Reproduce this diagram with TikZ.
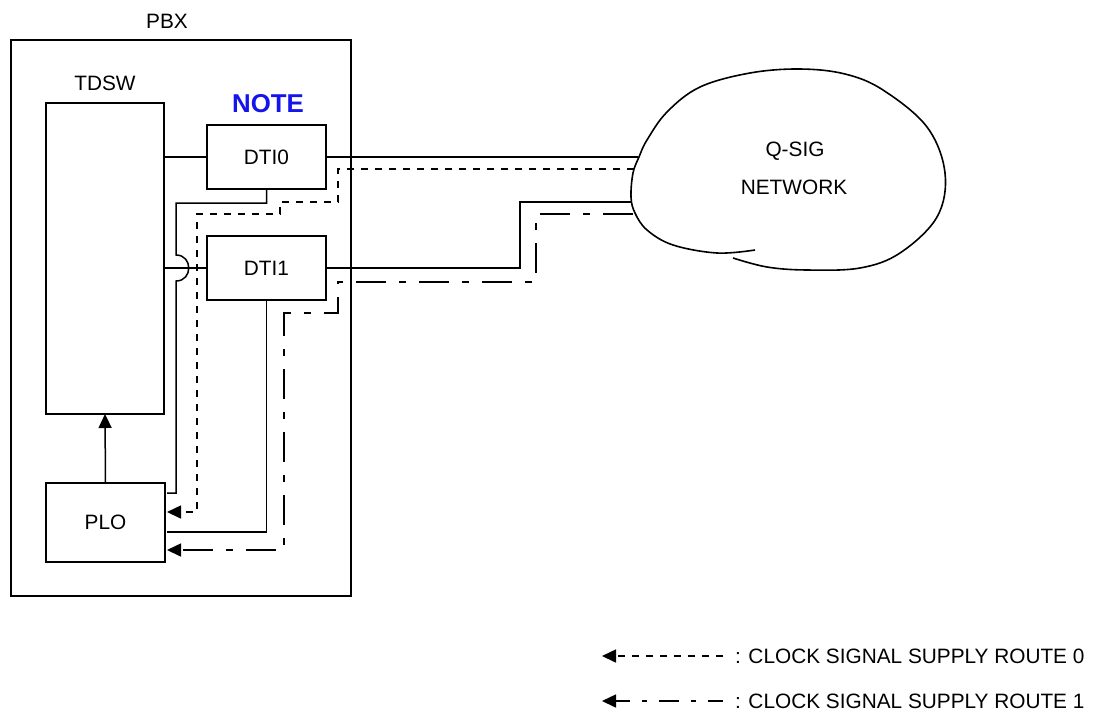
\documentclass[tikz,border=0pt]{standalone}
\usepackage{fontspec}
\setmainfont{Liberation Sans}
\usetikzlibrary{arrows.meta}
\definecolor{noteblue}{RGB}{20,20,235}
\begin{document}
\begin{tikzpicture}[x=1pt,y=-1pt,
  every node/.style={inner sep=0pt,outer sep=0pt},
  lbl/.style={font=\fontsize{20.8}{24}\selectfont},
  unit/.style={draw,line width=2.8pt,lbl},
  wire/.style={line width=1.5pt},
  route0/.style={line width=1.6pt,dash pattern=on 7pt off 7pt},
  route1/.style={line width=1.6pt,dash pattern=on 30pt off 13pt on 7pt off 13pt},
  tip/.style={-{Triangle[length=14pt,width=13pt]}}]
\useasboundingbox (0,0) rectangle (1100,716);
% frames
\node[draw,line width=1.5pt,minimum width=340pt,minimum height=556pt] (pbx) at (181,318) {};
\node[lbl] (pbxl) at (167,21) {PBX};
\node[draw,line width=2.8pt,minimum width=118pt,minimum height=311pt] (tdsw) at (105,258.5) {};
\node[lbl] (tdswl) at (105,83) {TDSW};
\node[font=\fontsize{25.8}{30}\selectfont\bfseries,text=noteblue] (note) at (268,104) {NOTE};
\node[unit,minimum width=119pt,minimum height=64pt] (dti0) at (266.5,157) {DTI0};
\node[unit,minimum width=119pt,minimum height=64pt] (dti1) at (266.5,268) {DTI1};
\node[unit,minimum width=119pt,minimum height=79pt] (plo) at (105.5,522.5) {PLO};
% cloud
\draw[line width=1.6pt] plot[smooth,tension=0.6] coordinates {
 (755,250) (717,253) (673,245) (647,230) (635,213) (631,197) (633,173) (639,157)
 (647,140) (667,112) (700,87) (750,73) (800,69) (845,74) (883,90) (927,127)
 (945,173) (937,217) (900,253) (860,268) (807,270) (767,267) (733,258)};
\node[lbl] (qsig) at (795,151) {Q-SIG};
\node[lbl] (net) at (794,187) {NETWORK};
% cloud contact points
\coordinate (c0) at (638,157);
\coordinate (c0d) at (634,169);
\coordinate (c1) at (631,202);
\coordinate (c1d) at (633,214);
\coordinate (j1) at (520,202);
\coordinate (a1) at (176,203);
\coordinate (a2) at (176,255);
\coordinate (a3) at (176,281);
\coordinate (p0) at (167,493);
\coordinate (p1) at (167,512);
\coordinate (p2) at (167,532);
\coordinate (p3) at (167,550);
% internal wiring
\draw[wire] (tdsw.east |- dti0.west) -- (dti0.west);
\draw[wire] (tdsw.east |- dti1.west) -- (dti1.west);
\draw[wire,tip] (plo.north) -- (tdsw.south);
\draw[wire] (dti0.east) -- (c0);
\draw[wire] (dti1.east) -| (j1) -- (c1);
\draw[wire] (dti0.south) |- (a1) -- (a2) .. controls (193,255) and (193,281) .. (a3) |- (p0);
\draw[wire] (dti1.south) |- (p2);
% clock routes
\draw[route0,tip] (c0d) -- (338,169) -- (338,202) -- (280,202) -- (280,214) -- (197,214) |- (p1);
\draw[route1,tip] (c1d) -- (536,214) -- (536,282) -- (338,282) -- (338,313) -- (284,313) |- (p3);
% legend
\coordinate (l0a) at (723,656);
\coordinate (l0b) at (602,656);
\coordinate (l1a) at (723,701);
\coordinate (l1b) at (602,701);
\draw[route0,tip] (l0a) -- (l0b);
\draw[route1,dash pattern=on 15pt off 12pt on 5pt off 12pt on 20pt off 12pt on 5pt off 12pt,tip] (l1a) -- (l1b);
\node[lbl,anchor=west] (leg0) at (735,656) {: CLOCK SIGNAL SUPPLY ROUTE 0};
\node[lbl,anchor=west] (leg1) at (735,701) {: CLOCK SIGNAL SUPPLY ROUTE 1};
\end{tikzpicture}
\end{document}
